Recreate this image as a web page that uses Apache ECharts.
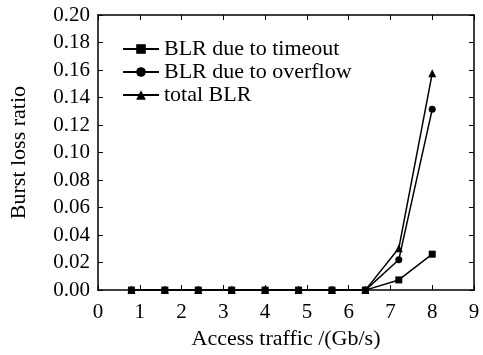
<!DOCTYPE html>
<html>
<head>
<meta charset="utf-8">
<script src="https://cdn.jsdelivr.net/npm/echarts@6/dist/echarts.min.js"></script>
<style>
html, body { margin: 0; padding: 0; background: #fff; }
#chart { width: 483px; height: 355px; }
</style>
</head>
<body>
<div id="chart"></div>
<script>
var traffic = [0.8, 1.6, 2.4, 3.2, 4.0, 4.8, 5.6, 6.4, 7.2, 8.0];
var blrTimeout = [0, 0, 0, 0, 0, 0, 0, 0, 0.0074, 0.0261];
var blrOverflow = [0, 0, 0, 0, 0, 0, 0, 0, 0.0221, 0.1314];
var blrTotal = [0, 0, 0, 0, 0, 0, 0, 0, 0.0304, 0.1576];
var seriesNames = ['BLR due to timeout', 'BLR due to overflow', 'total BLR'];

var chart = echarts.init(document.getElementById('chart'));
var font = 'Liberation Serif';

function pairs(ys) {
    return traffic.map(function (x, i) { return [x, ys[i]]; });
}

function lineSeries(name, ys, symbol, size) {
    return {
        name: name,
        type: 'line',
        data: pairs(ys),
        symbol: symbol,
        symbolSize: size,
        showAllSymbol: true,
        lineStyle: { color: '#000', width: 1.5 },
        itemStyle: { color: '#000' },
        emphasis: { disabled: true }
    };
}

var axisLine = { show: true, onZero: false, lineStyle: { color: '#000', width: 1.5 } };
var axisTick = { show: true, inside: true, length: 5, lineStyle: { color: '#000', width: 1 } };

option = {
    animation: false,
    textStyle: { fontFamily: font },
    grid: { left: 97, right: 9, top: 15, bottom: 62 },
    legend: {
        data: seriesNames,
        orient: 'vertical',
        left: 117,
        top: 33,
        itemWidth: 36,
        itemHeight: 12,
        itemGap: 1,
        textStyle: { fontFamily: font, fontSize: 22, color: '#000' }
    },
    xAxis: [{
        type: 'value',
        min: 0, max: 9, interval: 1,
        name: 'Access traffic /(Gb/s)',
        nameLocation: 'middle',
        nameGap: 33,
        nameTextStyle: { fontFamily: font, fontSize: 22, color: '#000' },
        axisLine: axisLine,
        axisTick: axisTick,
        splitLine: { show: false },
        axisLabel: { fontFamily: font, fontSize: 21, color: '#000', margin: 12 }
    }, {
        type: 'value',
        position: 'top',
        min: 0, max: 9, interval: 1,
        axisLine: axisLine,
        axisTick: axisTick,
        splitLine: { show: false },
        axisLabel: { show: false }
    }],
    yAxis: [{
        type: 'value',
        min: 0, max: 0.2, interval: 0.02,
        name: 'Burst loss ratio',
        nameLocation: 'middle',
        nameGap: 68,
        nameTextStyle: { fontFamily: font, fontSize: 22, color: '#000' },
        axisLine: axisLine,
        axisTick: axisTick,
        splitLine: { show: false },
        axisLabel: {
            fontFamily: font, fontSize: 21, color: '#000', margin: 8,
            formatter: function (v) { return v.toFixed(2); }
        }
    }, {
        type: 'value',
        position: 'right',
        min: 0, max: 0.2, interval: 0.02,
        axisLine: axisLine,
        axisTick: axisTick,
        splitLine: { show: false },
        axisLabel: { show: false }
    }],
    series: [
        lineSeries(seriesNames[0], blrTimeout, 'rect', 7),
        lineSeries(seriesNames[1], blrOverflow, 'circle', 7),
        lineSeries(seriesNames[2], blrTotal, 'triangle', 8)
    ]
};

chart.setOption(option);
window.addEventListener('resize', chart.resize);
</script>
</body>
</html>
